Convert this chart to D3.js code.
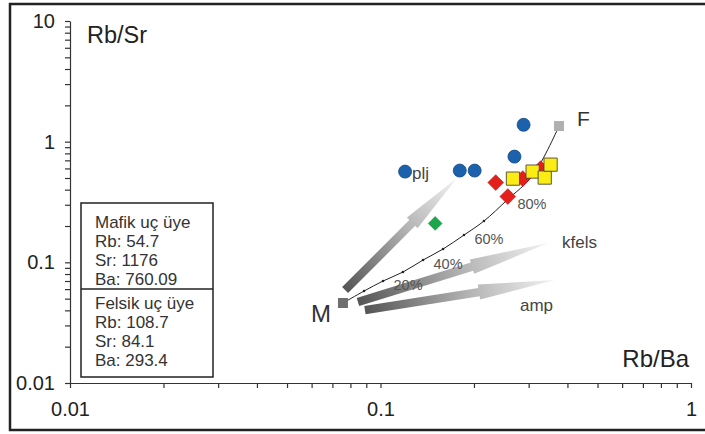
<!DOCTYPE html>
<html>
<head>
<meta charset="utf-8">
<script src="https://cdn.jsdelivr.net/npm/d3@7"></script>
<style>
  body { margin: 0; background: #fff; }
  svg { display: block; font-family: "Liberation Sans", Arial, sans-serif; }
</style>
</head>
<body>
<svg id="chart" width="705" height="434"></svg>
<script>
// ---- data (Rb/Ba on x, Rb/Sr on y) ----
const xLabels = [0.01, 0.1, 1];
const yLabels = [0.01, 0.1, 1, 10];

// blue circles
const circRbBa = [0.120, 0.180, 0.201, 0.270, 0.289];
const circRbSr = [0.565, 0.576, 0.576, 0.752, 1.38];
// red diamonds
const redRbBa = [0.235, 0.257, 0.287, 0.328];
const redRbSr = [0.458, 0.351, 0.494, 0.598];
// yellow squares
const yelRbBa = [0.267, 0.309, 0.338, 0.353];
const yelRbSr = [0.494, 0.565, 0.504, 0.645];
// green diamond
const grnRbBa = [0.150];
const grnRbSr = [0.210];

// mixing curve M -> F, marks every 10 %
const mixRbBa = [0.0757, 0.0885, 0.1019, 0.1181, 0.1371, 0.159, 0.1857, 0.2154, 0.2555, 0.310, 0.3758];
const mixRbSr = [0.046, 0.0578, 0.070, 0.0831, 0.1045, 0.1289, 0.1683, 0.220, 0.328, 0.529, 1.347];
const mixLabels = ["", "", "20%", "", "40%", "", "60%", "", "80%", "", ""];

// vectors (tail -> tip)
const vecNames = ["plj", "kfels", "amp"];
const vecFromRbBa = [0.0769, 0.0846, 0.0891];
const vecFromRbSr = [0.0589, 0.0469, 0.0402];
const vecToRbBa = [0.1764, 0.3464, 0.3648];
const vecToRbSr = [0.499, 0.1445, 0.0714];

const boxLines1 = ["Mafik uç üye", "Rb: 54.7", "Sr: 1176", "Ba: 760.09"];
const boxLines2 = ["Felsik uç üye", "Rb: 108.7", "Sr: 84.1", "Ba: 293.4"];

// ---- chart ----
var svg = d3.select("#chart");

var x = d3.scaleLog().domain([0.01, 1]).range([70, 691]);
var y = d3.scaleLog().domain([0.01, 10]).range([383, 21]);

// outer frame (right side runs off the picture)
svg.append("rect")
    .attr("x", 10).attr("y", 4)
    .attr("width", 720).attr("height", 426)
    .attr("fill", "none")
    .attr("stroke", "#222")
    .attr("stroke-width", 2.5);

var fmt = d => xLabels.concat(yLabels).some(v => Math.abs(v - d) < 1e-9) ? String(d) : "";

var xAxis = svg.append("g")
    .attr("transform", "translate(0,383)")
    .call(d3.axisBottom(x).tickValues(x.ticks()).tickFormat(fmt).tickSize(5).tickSizeOuter(0));
xAxis.selectAll("text")
    .attr("y", 19).attr("dy", "0.71em")
    .style("font-size", "20px").attr("fill", "#222");

var yAxis = svg.append("g")
    .attr("transform", "translate(70,0)")
    .call(d3.axisLeft(y).tickValues(y.ticks()).tickFormat(fmt).tickSize(5).tickSizeOuter(0));
yAxis.selectAll("text")
    .attr("x", -15)
    .style("font-size", "20px").attr("fill", "#222");

svg.selectAll(".domain, .tick line").attr("stroke", "#333").attr("stroke-width", 1.2);

// axis titles
svg.append("text").attr("x", 87).attr("y", 43)
    .style("font-size", "23.5px").attr("fill", "#222").text("Rb/Sr");
svg.append("text").attr("x", 689).attr("y", 367).attr("text-anchor", "end")
    .style("font-size", "24px").attr("fill", "#222").text("Rb/Ba");

// gradient vectors
var defs = svg.append("defs");
vecNames.forEach(function (name, i) {
    var x0 = x(vecFromRbBa[i]), y0 = y(vecFromRbSr[i]);
    var x1 = x(vecToRbBa[i]), y1 = y(vecToRbSr[i]);
    var g = defs.append("linearGradient")
        .attr("id", "grad" + i)
        .attr("gradientUnits", "userSpaceOnUse")
        .attr("x1", x0).attr("y1", y0).attr("x2", x1).attr("y2", y1);
    g.append("stop").attr("offset", 0).attr("stop-color", "#555");
    g.append("stop").attr("offset", 0.55).attr("stop-color", "#b4b4b4");
    g.append("stop").attr("offset", 1).attr("stop-color", "#f2f2f2");

    var len = Math.hypot(x1 - x0, y1 - y0);
    var ux = (x1 - x0) / len, uy = (y1 - y0) / len;
    var nx = -uy, ny = ux;
    var hb = 0.6 * len, sw = 4.2, hw = 7.5;
    var pts = [
        [x0 + nx * sw, y0 + ny * sw],
        [x0 + ux * hb + nx * sw, y0 + uy * hb + ny * sw],
        [x0 + ux * hb + nx * hw, y0 + uy * hb + ny * hw],
        [x1, y1],
        [x0 + ux * hb - nx * hw, y0 + uy * hb - ny * hw],
        [x0 + ux * hb - nx * sw, y0 + uy * hb - ny * sw],
        [x0 - nx * sw, y0 - ny * sw]
    ];
    svg.append("path")
        .attr("d", "M" + pts.map(p => p.join(",")).join("L") + "Z")
        .attr("fill", "url(#grad" + i + ")");
});

// mixing curve
var mix = mixRbBa.map((v, i) => [x(v), y(mixRbSr[i])]);
svg.append("path")
    .attr("d", d3.line().curve(d3.curveCatmullRom.alpha(0.5))(mix))
    .attr("fill", "none")
    .attr("stroke", "#222")
    .attr("stroke-width", 1);
svg.selectAll(".mixmark")
    .data(mix.slice(1, -1))
    .join("circle")
    .attr("cx", d => d[0]).attr("cy", d => d[1])
    .attr("r", 1.3).attr("fill", "#222");
svg.selectAll(".mixlab")
    .data(mix.map((d, i) => [d, mixLabels[i]]).filter(d => d[1]))
    .join("text")
    .attr("x", d => d[0][0] + 25).attr("y", d => d[0][1] + 4)
    .attr("text-anchor", "middle").attr("dominant-baseline", "central")
    .style("font-size", "14.5px").attr("fill", "#555")
    .text(d => d[1]);

// end members
var sq = d3.symbol(d3.symbolSquare, 100);
svg.append("path").attr("d", sq())
    .attr("transform", `translate(${mix[0][0]},${mix[0][1]})`).attr("fill", "#6f6f6f");
svg.append("path").attr("d", sq())
    .attr("transform", `translate(${mix[mix.length - 1][0]},${mix[mix.length - 1][1]})`).attr("fill", "#b0b0b0");
svg.append("text").attr("x", 311).attr("y", 322)
    .style("font-size", "24px").attr("fill", "#333").text("M");
svg.append("text").attr("x", 577).attr("y", 126)
    .style("font-size", "21px").attr("fill", "#333").text("F");

// samples
svg.selectAll(".red")
    .data(redRbBa.map((v, i) => [v, redRbSr[i]]))
    .join("path")
    .attr("d", d3.symbol(d3.symbolSquare, 125)())
    .attr("transform", d => `translate(${x(d[0])},${y(d[1])}) rotate(45)`)
    .attr("fill", "#e3201b").attr("stroke", "#b51414").attr("stroke-width", 0.5);

svg.selectAll(".yel")
    .data(yelRbBa.map((v, i) => [v, yelRbSr[i]]))
    .join("path")
    .attr("d", d3.symbol(d3.symbolSquare, 175)())
    .attr("transform", d => `translate(${x(d[0])},${y(d[1])})`)
    .attr("fill", "#fbec16").attr("stroke", "#4a4a3a").attr("stroke-width", 0.9);

svg.selectAll(".grn")
    .data(grnRbBa.map((v, i) => [v, grnRbSr[i]]))
    .join("path")
    .attr("d", d3.symbol(d3.symbolSquare, 95)())
    .attr("transform", d => `translate(${x(d[0])},${y(d[1])}) rotate(45)`)
    .attr("fill", "#1ca64c").attr("stroke", "#13803a").attr("stroke-width", 0.5);

svg.selectAll(".blu")
    .data(circRbBa.map((v, i) => [v, circRbSr[i]]))
    .join("circle")
    .attr("cx", d => x(d[0])).attr("cy", d => y(d[1]))
    .attr("r", 6.5)
    .attr("fill", "#1b61ab").attr("stroke", "#124a86").attr("stroke-width", 0.8);

// vector labels
var labPos = [[412, 179], [562, 248], [520, 311]];
vecNames.forEach(function (name, i) {
    svg.append("text")
        .attr("x", labPos[i][0]).attr("y", labPos[i][1])
        .style("font-size", "17px").attr("fill", "#444")
        .text(name);
});

// end-member box
svg.append("rect")
    .attr("x", 81).attr("y", 203).attr("width", 132).attr("height", 174)
    .attr("fill", "#fff").attr("stroke", "#222").attr("stroke-width", 1.5);
svg.append("line")
    .attr("x1", 81).attr("x2", 213).attr("y1", 289).attr("y2", 289)
    .attr("stroke", "#222").attr("stroke-width", 1.5);
boxLines1.concat(boxLines2).forEach(function (t, i) {
    var yy = (i < 4 ? 228 : 309) + (i % 4) * 19;
    svg.append("text").attr("x", 95).attr("y", yy)
        .style("font-size", "17px").attr("fill", "#333").text(t);
});
</script>
</body>
</html>
